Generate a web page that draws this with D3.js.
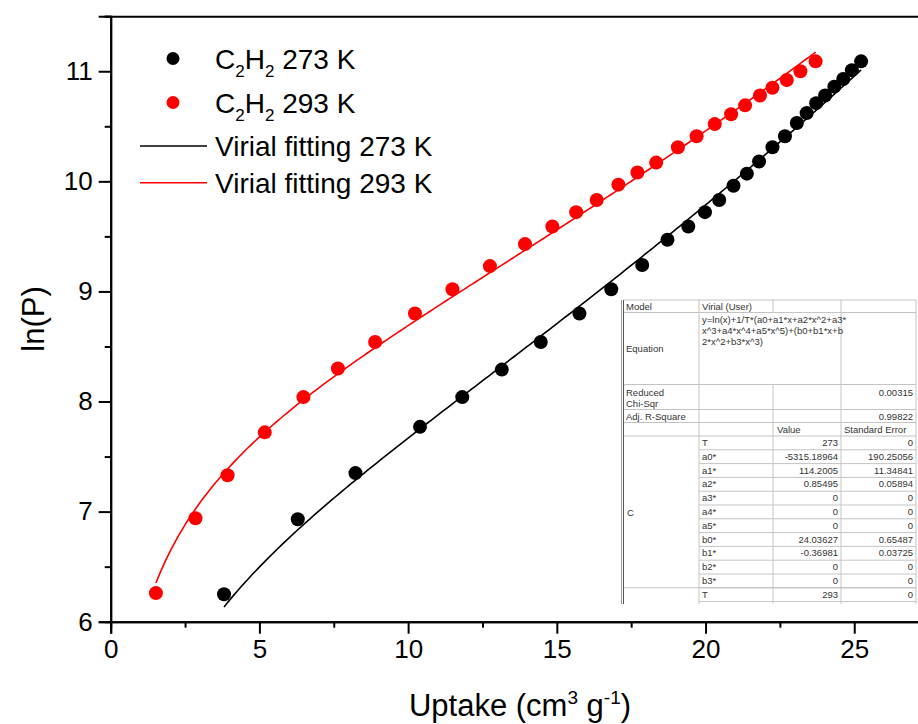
<!DOCTYPE html>
<html>
<head>
<meta charset="utf-8">
<script src="https://cdn.jsdelivr.net/npm/d3@7"></script>
<style>
  body { margin: 0; background: #fff; }
  svg { display: block; }
  text { font-family: "Liberation Sans", Arial, sans-serif; }
</style>
</head>
<body>
<svg id="chart" width="918" height="724"></svg>
<script>
// Measured isotherm points, ln(P) against uptake
const uptake273 = [3.81, 6.29, 8.23, 10.40, 11.82, 13.15, 14.46, 15.76, 16.83, 17.87, 18.72, 19.42, 19.98,
                   20.46, 20.94, 21.39, 21.80, 22.25, 22.67, 23.07, 23.40, 23.72, 24.02, 24.33, 24.63, 24.92, 25.23];
const lnP273    = [6.25, 6.93, 7.35, 7.77, 8.04, 8.29, 8.54, 8.80, 9.02, 9.24, 9.47, 9.59, 9.72,
                   9.83, 9.96, 10.07, 10.18, 10.31, 10.41, 10.53, 10.62, 10.71, 10.78, 10.86, 10.93, 11.01, 11.09];
const uptake293 = [1.52, 2.85, 3.93, 5.18, 6.48, 7.64, 8.89, 10.23, 11.49, 12.75, 13.93, 14.85, 15.65, 16.34,
                   17.07, 17.71, 18.34, 19.07, 19.70, 20.31, 20.86, 21.33, 21.83, 22.25, 22.73, 23.19, 23.70];
const lnP293    = [6.26, 6.94, 7.33, 7.72, 8.04, 8.30, 8.54, 8.80, 9.02, 9.23, 9.43, 9.59, 9.72, 9.83,
                   9.97, 10.08, 10.17, 10.31, 10.41, 10.52, 10.61, 10.69, 10.78, 10.85, 10.92, 11.00, 11.09];

// Virial fit parameters shared by both temperatures
const temperatures = [273, 293];
const paramA = [-5315.18964, 114.2005, 0.85495, 0, 0, 0];
const paramB = [24.03627, -0.36981, 0, 0];

// Axis ticks
const xTicks = [0, 5, 10, 15, 20, 25];
const xMinorTicks = [2.5, 7.5, 12.5, 17.5, 22.5, 27.5];
const yTicks = [6, 7, 8, 9, 10, 11];
const yMinorTicks = [6.5, 7.5, 8.5, 9.5, 10.5, 11.5];

const seriesColors = ["#000000", "#ff0000"];

// Fit report table
const tableParams = ["T", "a0*", "a1*", "a2*", "a3*", "a4*", "a5*", "b0*", "b1*", "b2*", "b3*", "T"];
const tableValues = ["273", "-5315.18964", "114.2005", "0.85495", "0", "0", "0", "24.03627", "-0.36981", "0", "0", "293"];
const tableErrors = ["0", "190.25056", "11.34841", "0.05894", "0", "0", "0", "0.65487", "0.03725", "0", "0", "0"];
const equationLines = ["y=ln(x)+1/T*(a0+a1*x+a2*x^2+a3*", "x^3+a4*x^4+a5*x^5)+(b0+b1*x+b", "2*x^2+b3*x^3)"];

const svg = d3.select("#chart");
svg.append("rect").attr("width", 918).attr("height", 724).attr("fill", "#fff");

const x = d3.scaleLinear().domain([0, 27.5]).range([110.7, 928.6]);
const y = d3.scaleLinear().domain([6, 11.5]).range([621.7, 16.2]);

// ---- axes ----
const axisG = svg.append("g").attr("stroke", "#000").attr("stroke-width", 2);

const xAxis = svg.append("g").attr("transform", `translate(0,${y(6)})`)
  .call(d3.axisBottom(x).tickValues(xTicks).tickSize(12).tickPadding(6).tickFormat(d3.format("d")));
svg.append("g").attr("transform", `translate(0,${y(6)})`)
  .call(d3.axisBottom(x).tickValues(xMinorTicks).tickSize(6).tickFormat(""));
const yAxis = svg.append("g").attr("transform", `translate(${x(0)},0)`)
  .call(d3.axisLeft(y).tickValues(yTicks).tickSize(12).tickPadding(6).tickFormat(d3.format("d")));
svg.append("g").attr("transform", `translate(${x(0)},0)`)
  .call(d3.axisLeft(y).tickValues(yMinorTicks).tickSize(6).tickFormat(""));
// top frame line
svg.append("g").attr("transform", `translate(0,${y(11.5)})`)
  .call(d3.axisTop(x).tickValues([]).tickSizeOuter(0));

svg.selectAll(".domain").attr("stroke", "#000").attr("stroke-width", 2);
svg.selectAll(".tick line").attr("stroke", "#000").attr("stroke-width", 2);
svg.selectAll(".tick text").attr("fill", "#000").attr("font-size", 26)
  .attr("font-family", "'Liberation Sans', Arial, sans-serif");

// axis titles
svg.append("text")
  .attr("transform", `translate(44,${y(8.75)}) rotate(-90)`)
  .attr("text-anchor", "middle").attr("font-size", 31).text("ln(P)");

const xTitle = svg.append("text").attr("x", 520).attr("y", 716)
  .attr("text-anchor", "middle").attr("font-size", 31);
xTitle.append("tspan").text("Uptake (cm");
xTitle.append("tspan").attr("font-size", 19).attr("dy", -12).text("3");
xTitle.append("tspan").attr("dy", 12).text(" g");
xTitle.append("tspan").attr("font-size", 19).attr("dy", -12).text("-1");
xTitle.append("tspan").attr("dy", 12).text(")");

// ---- fit table ----
const tbl = svg.append("g").attr("font-size", 9.5).attr("fill", "#333");
const colX = [623, 699, 773, 841, 916];
const lineColor = "#c4c4c4";
const tableTop = 300, tableBottom = 604;
const rowTop = 436, rowH = 13.8;
function hline(y0, x1, x2) {
  tbl.append("line").attr("x1", x1).attr("x2", x2).attr("y1", y0).attr("y2", y0)
    .attr("stroke", lineColor).attr("stroke-width", 1);
}
function vline(xv, y1, y2, c) {
  tbl.append("line").attr("x1", xv).attr("x2", xv).attr("y1", y1).attr("y2", y2)
    .attr("stroke", c || lineColor).attr("stroke-width", 1);
}
function cell(txt, xv, yv, anchor) {
  tbl.append("text").attr("x", xv).attr("y", yv).attr("text-anchor", anchor || "start").text(txt);
}
// header section rows
const headRows = [300, 312.5, 384.5, 409.5, 422.5, rowTop];
headRows.forEach(r => hline(r, colX[0], colX[4]));
vline(colX[1], tableTop, tableBottom);
vline(colX[2], tableTop, 312.5);
vline(colX[2], 384.5, tableBottom);
vline(colX[3], tableTop, tableBottom);
vline(colX[4], tableTop, tableBottom);
// parameter rows
tableParams.forEach((p, i) => {
  const r0 = rowTop + i * rowH;
  hline(r0 + rowH, colX[1], colX[4]);
  cell(p, colX[1] + 3, r0 + 10);
  cell(tableValues[i], colX[3] - 3, r0 + 10, "end");
  cell(tableErrors[i], colX[4] - 3, r0 + 10, "end");
});
hline(rowTop + 11 * rowH, colX[0], colX[4]);
// left border, drawn darker
vline(colX[0] + 0.5, tableTop, tableBottom, "#555");
vline(colX[0] - 1.5, tableTop, tableBottom, "#999");

cell("Model", colX[0] + 3, 309.5);
cell("Virial (User)", colX[1] + 3, 309.5);
equationLines.forEach((l, i) => cell(l, colX[1] + 3, 323 + i * 11));
cell("Equation", colX[0] + 3, 352);
cell("Reduced", colX[0] + 3, 396);
cell("Chi-Sqr", colX[0] + 3, 406.5);
cell("0.00315", colX[4] - 3, 396, "end");
cell("Adj. R-Square", colX[0] + 3, 419.5);
cell("0.99822", colX[4] - 3, 419.5, "end");
cell("Value", colX[2] + 4, 432.5);
cell("Standard Error", colX[3] + 3, 432.5);
cell("C", colX[0] + 4, rowTop + 5.5 * rowH + 4);

// ---- fit curves ----
function virial(n, T) {
  const aSum = paramA.reduce((s, a, i) => s + a * Math.pow(n, i), 0);
  const bSum = paramB.reduce((s, b, i) => s + b * Math.pow(n, i), 0);
  return Math.log(n) + aSum / T + bSum;
}
const line = d3.line().x(d => x(d[0])).y(d => y(d[1]));
[[uptake273, temperatures[0]], [uptake293, temperatures[1]]].forEach(([ux, T], k) => {
  const lo = d3.min(ux), hi = d3.max(ux);
  const pts = d3.range(0, 201).map(i => {
    const n = lo + (hi - lo) * i / 200;
    return [n, virial(n, T)];
  });
  svg.append("path").datum(pts).attr("d", line)
    .attr("fill", "none").attr("stroke", seriesColors[k]).attr("stroke-width", 1.6);
});

// ---- data points ----
[[uptake273, lnP273], [uptake293, lnP293]].forEach(([ux, uy], k) => {
  svg.append("g").selectAll("circle").data(ux).join("circle")
    .attr("cx", d => x(d)).attr("cy", (d, i) => y(uy[i])).attr("r", 7)
    .attr("fill", seriesColors[k]);
});

// ---- legend ----
const leg = svg.append("g").attr("font-size", 28).attr("fill", "#000");
const legendTemps = ["273 K", "293 K"];
legendTemps.forEach((t, i) => {
  const yy = 58.5 + i * 44;
  leg.append("circle").attr("cx", 173).attr("cy", yy).attr("r", 6.5).attr("fill", seriesColors[i]);
  const tx = leg.append("text").attr("x", 215).attr("y", yy + 10);
  tx.append("tspan").text("C");
  tx.append("tspan").attr("font-size", 17).attr("dy", 8).text("2");
  tx.append("tspan").attr("dy", -8).text("H");
  tx.append("tspan").attr("font-size", 17).attr("dy", 8).text("2");
  tx.append("tspan").attr("dy", -8).text(" " + t);
});
legendTemps.forEach((t, i) => {
  const yy = 146 + i * 36.7;
  leg.append("line").attr("x1", 140).attr("x2", 207).attr("y1", yy).attr("y2", yy)
    .attr("stroke", seriesColors[i]).attr("stroke-width", 1.6);
  leg.append("text").attr("x", 215).attr("y", yy + 10).text("Virial fitting " + t);
});
</script>
</body>
</html>
